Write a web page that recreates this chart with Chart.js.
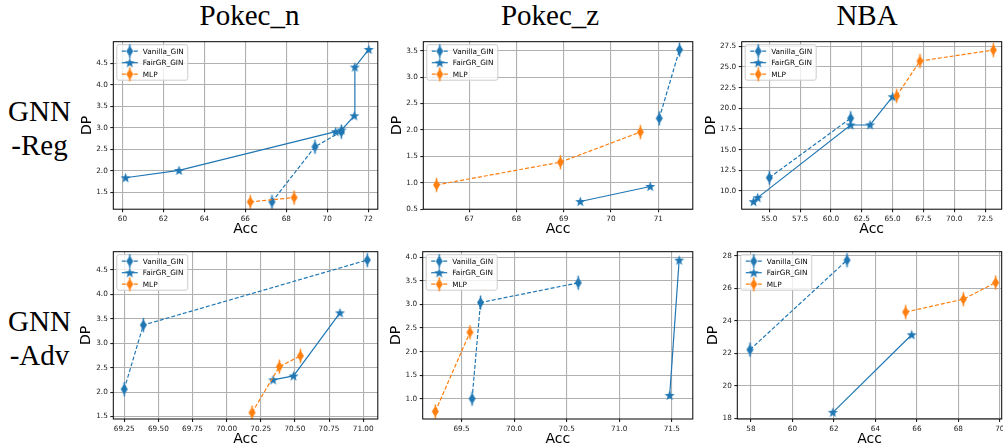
<!DOCTYPE html>
<html><head><meta charset="utf-8">
<script src="https://cdn.jsdelivr.net/npm/chart.js@4.4.1/dist/chart.umd.min.js"></script>
<style>
html,body{margin:0;padding:0;background:#fff;width:1003px;height:448px;overflow:hidden;position:relative;}
canvas{position:absolute;}
.title{position:absolute;font-family:'Liberation Serif','Times New Roman',serif;font-size:29px;line-height:29px;color:#000;white-space:nowrap;transform:translateX(-50%);}
.row{position:absolute;left:0;width:79px;text-align:center;font-family:'Liberation Serif','Times New Roman',serif;font-size:29px;line-height:34px;color:#000;white-space:pre;}
</style></head><body>
<script>
// ---------- text ----------
const seriesLabels = ['Vanilla_GIN', 'FairGR_GIN', 'MLP'];
const columnTitles = ['Pokec_n', 'Pokec_z', 'NBA'];
const rowTitles = ['GNN\n-Reg', 'GNN\n-Adv'];
const xAxisTitle = 'Acc';
const yAxisTitle = 'DP';

// ---------- data: [Acc, DP] ----------
// GNN-Reg / Pokec_n
const regPokecN_vanilla = [[67.30,1.28],[69.40,2.56],[70.69,2.91]];
const regPokecN_fairgr  = [[60.15,1.84],[62.76,2.01],[70.41,2.91],[70.70,2.95],[71.32,3.28],[71.35,4.41],[72.03,4.82]];
const regPokecN_mlp     = [[66.24,1.28],[68.38,1.38]];
const regPokecN_xTicks  = ['60','62','64','66','68','70','72'];
const regPokecN_yTicks  = ['1.5','2.0','2.5','3.0','3.5','4.0','4.5'];
// GNN-Reg / Pokec_z
const regPokecZ_vanilla = [[71.02,2.22],[71.45,3.52]];
const regPokecZ_fairgr  = [[69.35,0.645],[70.83,0.93]];
const regPokecZ_mlp     = [[66.31,0.96],[68.93,1.39],[70.62,1.96]];
const regPokecZ_xTicks  = ['67','68','69','70','71'];
const regPokecZ_yTicks  = ['0.5','1.0','1.5','2.0','2.5','3.0','3.5'];
// GNN-Reg / NBA
const regNBA_vanilla = [[55.0,11.6],[61.6,18.8]];
const regNBA_fairgr  = [[53.72,8.7],[54.06,9.19],[61.6,17.98],[63.17,18.0],[65.0,21.4]];
const regNBA_mlp     = [[65.33,21.5],[67.22,25.72],[73.17,27.05]];
const regNBA_xTicks  = ['55.0','57.5','60.0','62.5','65.0','67.5','70.0','72.5'];
const regNBA_yTicks  = ['10.0','12.5','15.0','17.5','20.0','22.5','25.0','27.5'];
// GNN-Adv / Pokec_n
const advPokecN_vanilla = [[69.25,2.06],[69.39,3.37],[71.03,4.70]];
const advPokecN_fairgr  = [[70.34,2.25],[70.49,2.33],[70.83,3.62]];
const advPokecN_mlp     = [[70.186,1.58],[70.386,2.52],[70.54,2.74]];
const advPokecN_xTicks  = ['69.25','69.50','69.75','70.00','70.25','70.50','70.75','71.00'];
const advPokecN_yTicks  = ['1.5','2.0','2.5','3.0','3.5','4.0','4.5'];
// GNN-Adv / Pokec_z
const advPokecZ_vanilla = [[69.60,1.0],[69.68,3.04],[70.61,3.46]];
const advPokecZ_fairgr  = [[71.48,1.07],[71.57,3.94]];
const advPokecZ_mlp     = [[69.25,0.73],[69.58,2.41]];
const advPokecZ_xTicks  = ['69.5','70.0','70.5','71.0','71.5'];
const advPokecZ_yTicks  = ['1.0','1.5','2.0','2.5','3.0','3.5','4.0'];
// GNN-Adv / NBA
const advNBA_vanilla = [[57.95,22.22],[62.63,27.73]];
const advNBA_fairgr  = [[61.95,18.37],[65.75,23.14]];
const advNBA_mlp     = [[65.46,24.54],[68.24,25.33],[69.8,26.35]];
const advNBA_xTicks  = ['58','60','62','64','66','68','70'];
const advNBA_yTicks  = ['18','20','22','24','26','28'];

// ---------- layout / style ----------
const BLUE = '#1f77b4', ORANGE = '#ff7f0e';
const FONT = "'DejaVu Sans', sans-serif";

const titlePos = [{x:249.5,y:1},{x:550,y:1},{x:867,y:1}];
const rowPos = [{y:94.25},{y:304.25}];

const panels = [
  {l:113.3,r:379,t:41.7,b:209.2,dp:26,padR:4,xMin:59.55,xMax:72.47,yMin:1.11,yMax:5.0,
   v:regPokecN_vanilla,f:regPokecN_fairgr,m:regPokecN_mlp,xt:regPokecN_xTicks,yt:regPokecN_yTicks},
  {l:423.3,r:694,t:41.7,b:209.2,dp:25.6,padR:4,xMin:66.03,xMax:71.73,yMin:0.5,yMax:3.67,
   v:regPokecZ_vanilla,f:regPokecZ_fairgr,m:regPokecZ_mlp,xt:regPokecZ_xTicks,yt:regPokecZ_yTicks},
  {l:741.7,r:1001.7,t:41.7,b:209.2,dp:30.7,padR:8,xMin:52.76,xMax:73.85,yMin:7.79,yMax:28.06,
   v:regNBA_vanilla,f:regNBA_fairgr,m:regNBA_mlp,xt:regNBA_xTicks,yt:regNBA_yTicks},
  {l:113.3,r:379,t:251.7,b:419,dp:27,padR:4,xMin:69.17,xMax:71.107,yMin:1.45,yMax:4.87,
   v:advPokecN_vanilla,f:advPokecN_fairgr,m:advPokecN_mlp,xt:advPokecN_xTicks,yt:advPokecN_yTicks},
  {l:422.7,r:693.3,t:251.7,b:419,dp:26.7,padR:4,xMin:69.13,xMax:71.70,yMin:0.57,yMax:4.12,
   v:advPokecZ_vanilla,f:advPokecZ_fairgr,m:advPokecZ_mlp,xt:advPokecZ_xTicks,yt:advPokecZ_yTicks},
  {l:737.3,r:1001.7,t:251.7,b:419,dp:24.3,padR:8,xMin:57.34,xMax:70.09,yMin:17.96,yMax:28.25,
   v:advNBA_vanilla,f:advNBA_fairgr,m:advNBA_mlp,xt:advNBA_xTicks,yt:advNBA_yTicks},
];

// ---------- titles ----------
columnTitles.forEach((t,i)=>{
  const d=document.createElement('div'); d.className='title'; d.textContent=t;
  d.style.left=titlePos[i].x+'px'; d.style.top=titlePos[i].y+'px'; document.body.appendChild(d);
});
rowTitles.forEach((t,i)=>{
  const d=document.createElement('div'); d.className='row'; d.textContent=t;
  d.style.top=rowPos[i].y+'px'; document.body.appendChild(d);
});

// ---------- markers ----------
function diamondMarker(color){
  const c=document.createElement('canvas'); c.width=9; c.height=17;
  const g=c.getContext('2d');
  g.strokeStyle=color; g.lineWidth=1.5;
  g.beginPath(); g.moveTo(4.5,1.5); g.lineTo(4.5,15.5); g.stroke();
  g.fillStyle=color;
  g.beginPath(); g.moveTo(4.5,3); g.lineTo(8,8.5); g.lineTo(4.5,14); g.lineTo(1,8.5); g.closePath(); g.fill();
  return c;
}
function starMarker(color){
  const c=document.createElement('canvas'); c.width=13; c.height=13;
  const g=c.getContext('2d'); g.fillStyle=color;
  g.beginPath();
  for(let k=0;k<10;k++){
    const a=-Math.PI/2+k*Math.PI/5, rr=(k%2)?2.2:5.3;
    const x=6.5+rr*Math.cos(a), y=6.9+rr*Math.sin(a);
    if(k===0) g.moveTo(x,y); else g.lineTo(x,y);
  }
  g.closePath(); g.fill();
  return c;
}
const mkV=diamondMarker(BLUE), mkF=starMarker(BLUE), mkM=diamondMarker(ORANGE);

// ---------- plugin: frame + legend ----------
const framePlugin={
  id:'frameLegend',
  afterDraw(chart){
    const ctx=chart.ctx, a=chart.chartArea;
    ctx.save();
    ctx.strokeStyle='#000'; ctx.lineWidth=1; ctx.setLineDash([]);
    ctx.strokeRect(a.left,a.top,a.right-a.left,a.bottom-a.top);
    ctx.font='7.3px '+FONT;
    const ds=chart.data.datasets;
    const tw=Math.max(...ds.map(d=>ctx.measureText(d.label).width));
    const x0=a.left+3.5, y0=a.top+3, bw=26+tw+4, bh=35.5, rad=2;
    ctx.beginPath();
    ctx.moveTo(x0+rad,y0); ctx.lineTo(x0+bw-rad,y0); ctx.arcTo(x0+bw,y0,x0+bw,y0+rad,rad);
    ctx.lineTo(x0+bw,y0+bh-rad); ctx.arcTo(x0+bw,y0+bh,x0+bw-rad,y0+bh,rad);
    ctx.lineTo(x0+rad,y0+bh); ctx.arcTo(x0,y0+bh,x0,y0+bh-rad,rad);
    ctx.lineTo(x0,y0+rad); ctx.arcTo(x0,y0,x0+rad,y0,rad); ctx.closePath();
    ctx.fillStyle='rgba(255,255,255,0.8)'; ctx.fill();
    ctx.strokeStyle='#cccccc'; ctx.lineWidth=1; ctx.stroke();
    ds.forEach((d,i)=>{
      const cy=y0+6.5+i*11.5;
      ctx.strokeStyle=d.borderColor; ctx.lineWidth=d.borderWidth; ctx.setLineDash(d.borderDash||[]);
      ctx.beginPath(); ctx.moveTo(x0+5,cy); ctx.lineTo(x0+21,cy); ctx.stroke();
      ctx.setLineDash([]);
      const im=d.pointStyle; ctx.drawImage(im,x0+13-im.width/2,cy-im.height/2);
      ctx.fillStyle='#000'; ctx.textBaseline='middle'; ctx.textAlign='left';
      ctx.fillText(d.label,x0+26,cy+0.5);
    });
    ctx.restore();
  }
};

// ---------- panels ----------
function toPts(arr){ return arr.map(([x,y])=>({x,y})); }

panels.forEach((p,idx)=>{
  const yW=p.dp+8.4, xH=20.5+8.4, padT=8;
  const rawL=p.l-yW, rawT=p.t-padT;
  const cl=Math.floor(rawL), ct=Math.floor(rawT);
  const padL=rawL-cl, padTop=p.t-ct;
  const plotW=p.r-p.l, plotH=p.b-p.t;
  const w=Math.ceil(padL+yW+plotW+p.padR), h=Math.ceil(padTop+plotH+xH);
  const padRight=w-padL-yW-plotW, padBottom=h-padTop-plotH-xH;
  const cv=document.createElement('canvas');
  cv.width=w; cv.height=h; cv.style.left=cl+'px'; cv.style.top=ct+'px';
  cv.style.width=w+'px'; cv.style.height=h+'px';
  document.body.appendChild(cv);

  const tickFont={family:FONT,size:7.3};
  const grid={color:'#b0b0b0',lineWidth:1.1,tickColor:'#222',tickLength:3,drawTicks:true};
  new Chart(cv,{
    type:'scatter',
    data:{datasets:[
      {label:seriesLabels[0],data:toPts(p.v),showLine:true,borderColor:BLUE,backgroundColor:BLUE,borderWidth:1.2,borderDash:[4,2],pointStyle:mkV,pointRadius:3,order:3},
      {label:seriesLabels[1],data:toPts(p.f),showLine:true,borderColor:BLUE,backgroundColor:BLUE,borderWidth:1.2,pointStyle:mkF,pointRadius:3,order:2},
      {label:seriesLabels[2],data:toPts(p.m),showLine:true,borderColor:ORANGE,backgroundColor:ORANGE,borderWidth:1.2,borderDash:[4,2],pointStyle:mkM,pointRadius:3,order:1},
    ]},
    options:{
      responsive:false, animation:false, events:[],
      layout:{padding:{left:padL,top:padTop,right:padRight,bottom:padBottom}},
      plugins:{legend:{display:false},tooltip:{enabled:false}},
      scales:{
        x:{type:'linear',min:p.xMin,max:p.xMax,
          afterBuildTicks:s=>{s.ticks=p.xt.map(t=>({value:parseFloat(t)}));},
          afterFit:s=>{s.height=xH;},
          ticks:{autoSkip:false,maxRotation:0,minRotation:0,padding:2.5,color:'#222',font:tickFont,callback:(v,i)=>p.xt[i]},
          grid:grid, border:{display:false},
          title:{display:true,text:xAxisTitle,color:'#000',font:{family:FONT,size:14},padding:0}},
        y:{type:'linear',min:p.yMin,max:p.yMax,
          afterBuildTicks:s=>{s.ticks=p.yt.map(t=>({value:parseFloat(t)}));},
          afterFit:s=>{s.width=yW;},
          ticks:{autoSkip:false,padding:2.5,color:'#222',font:tickFont,callback:(v,i)=>p.yt[i]},
          grid:grid, border:{display:false},
          title:{display:true,text:yAxisTitle,color:'#000',font:{family:FONT,size:14},padding:0}}
      }
    },
    plugins:[framePlugin]
  });
});
</script>
</body></html>
